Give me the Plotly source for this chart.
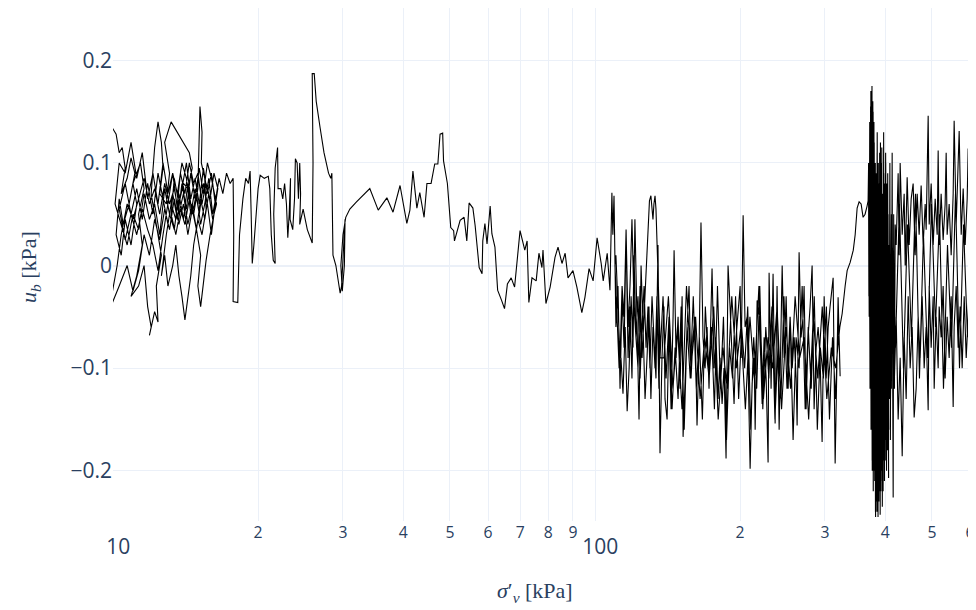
import plotly.graph_objects as go

# ---- segment A: tangled start (sigma'_v in kPa, u_b in kPa) ----
sig_a = [9.8, 10.15, 10.3, 10.45, 10.6, 10.4, 10.7, 10.9, 11.1, 10.8,
         10.5, 10.3, 10.15, 10.4, 10.6, 10.9, 11.2, 11.0, 11.4, 11.6,
         11.3, 11.5, 11.2, 10.9, 11.3, 11.6, 11.8, 12.0, 11.9, 12.2,
         12.4, 12.3, 12.6, 12.3, 12.0, 12.2, 12.4, 12.6, 12.7, 12.5,
         12.9, 13.1, 12.8, 13.2, 13.6, 14.0, 14.4, 14.6, 14.3, 14.0,
         13.7, 13.4, 13.2, 13.5, 13.8, 14.1, 14.4, 14.7, 15.0, 15.15,
         15.3, 15.25, 15.5, 15.6, 15.3, 15.0, 14.7, 14.5, 14.3, 14.1,
         13.9, 13.7, 13.5, 13.3, 13.0, 12.8, 12.6, 12.9, 13.2, 13.5,
         13.8, 14.1, 14.4, 14.7, 15.0, 15.3, 15.6, 15.9, 16.2, 16.5,
         16.2, 15.9, 15.6, 15.4, 15.2, 15.0, 15.2, 14.9, 14.6, 14.3,
         14.0, 13.7, 13.4, 13.1, 12.8, 12.5, 12.2, 11.9, 11.6, 11.3,
         11.0, 10.7, 10.4, 10.2, 9.8, 10.3, 10.7, 11.0, 11.3, 11.6,
         11.9, 12.2, 12.5, 12.8, 13.1, 13.4, 13.7, 14.0, 14.3, 14.6,
         14.9, 15.2, 15.5, 15.8, 16.1, 16.4, 16.0, 15.7, 15.4, 15.1,
         14.8, 14.5, 14.2, 13.9, 13.6, 13.3, 13.0, 12.7, 12.4, 12.1,
         11.8, 11.5, 11.2, 10.9, 10.6, 10.3, 10.6, 10.9, 11.2, 11.5,
         11.8, 12.1, 12.4, 12.7, 13.0, 13.3, 13.6, 13.9, 14.2, 14.5,
         14.8, 15.1, 15.4, 15.7, 16.0, 16.3]
ub_a = [0.14, 0.128, 0.11, 0.115, 0.095, 0.07, 0.085, 0.105, 0.09, 0.06,
        0.04, 0.065, 0.03, 0.01, 0.045, 0.02, 0.06, 0.08, 0.1, 0.075,
        0.05, 0.02, -0.01, -0.03, -0.02, 0.0, -0.04, -0.06, -0.068, -0.045,
        -0.055, -0.02, 0.01, 0.04, 0.07, 0.115, 0.14, 0.12, 0.095, 0.07,
        0.06, 0.09, 0.12, 0.14, 0.13, 0.12, 0.11, 0.095, 0.075, 0.08,
        0.06, 0.085, 0.05, 0.03, 0.055, 0.04, 0.065, 0.05, 0.075, 0.155,
        0.13, 0.1, 0.085, 0.055, 0.03, 0.045, 0.02, -0.01, -0.03, -0.053,
        -0.03, -0.01, 0.02, 0.0, -0.02, 0.01, -0.01, 0.03, 0.06, 0.045,
        0.09, 0.07, 0.1, 0.08, 0.09, 0.06, 0.08, 0.065, 0.09, 0.075,
        0.05, 0.03, 0.005, -0.02, -0.04, -0.02, 0.01, 0.035, 0.06, 0.04,
        0.07, 0.05, 0.075, 0.06, 0.08, 0.05, 0.075, 0.06, 0.085, 0.065,
        0.045, 0.06, 0.03, 0.0, -0.045, -0.02, 0.0, -0.025, -0.005, 0.03,
        0.01, 0.045, 0.025, 0.055, 0.035, 0.065, 0.04, 0.06, 0.03, 0.055,
        0.035, 0.065, 0.045, 0.07, 0.045, 0.06, 0.085, 0.1, 0.07, 0.095,
        0.065, 0.09, 0.055, 0.08, 0.045, 0.07, 0.04, 0.065, 0.09, 0.05,
        0.08, 0.045, 0.075, 0.05, 0.08, 0.055, 0.025, 0.05, 0.03, 0.055,
        0.035, 0.02, -0.005, 0.03, 0.06, 0.09, 0.07, 0.1, 0.085, 0.05,
        0.075, 0.05, 0.08, 0.06, 0.03, 0.06]
sig_a2 = [16.0, 15.7, 15.4, 15.1, 14.8, 14.5, 14.2, 13.9, 13.6, 13.3,
          13.0, 12.7, 12.4, 12.1, 11.8, 11.5, 11.2, 10.9, 10.6, 10.3,
          10.1, 10.4, 10.7, 11.0, 11.3, 11.6, 11.9, 12.2, 12.5, 12.8,
          13.1, 13.4, 13.7, 14.0, 14.3, 14.6, 14.9, 15.2, 15.5, 15.8,
          16.1, 16.4]
ub_a2 = [0.09, 0.07, 0.095, 0.06, 0.085, 0.065, 0.1, 0.075, 0.055, 0.09,
         0.07, 0.1, 0.06, 0.09, 0.065, 0.11, 0.085, 0.12, 0.09, 0.1,
         0.06, 0.04, 0.02, 0.05, 0.035, 0.07, 0.045, 0.06, 0.03, 0.075,
         0.05, 0.035, 0.07, 0.045, 0.08, 0.05, 0.07, 0.04, 0.06, 0.085,
         0.05, 0.07]

# ---- segment B: 17 - 30 kPa ----
sig_b = [16.6, 16.9, 17.2, 17.5, 17.75, 17.8, 17.75, 18.15, 18.3, 18.6,
         18.85, 19.1, 19.25, 19.35, 19.45, 19.6, 19.8, 20.0, 20.2, 20.6,
         21.0, 21.15, 21.3, 21.5, 21.7, 21.55, 21.7, 21.95, 22.0, 22.3,
         22.5, 22.7, 22.9, 23.05, 23.2, 23.35, 23.3, 23.6, 23.8, 23.9,
         24.1, 24.25, 24.4, 24.5, 24.4, 24.8, 25.3, 25.9, 26.0, 25.85,
         25.9, 26.15, 26.4, 26.9, 27.4, 28.0, 28.3, 28.45, 28.5, 28.6,
         29.0, 29.4, 29.6, 29.8, 30.0, 30.3, 30.2, 29.9, 29.7, 30.0,
         30.4]
ub_b = [0.085, 0.07, 0.09, 0.08, 0.085, 0.03, -0.035, -0.036, 0.03, 0.065,
        0.085, 0.08, 0.092, 0.05, 0.002, 0.02, 0.047, 0.075, 0.088, 0.085,
        0.087, 0.075, 0.03, 0.005, 0.002, 0.05, 0.095, 0.115, 0.075, 0.075,
        0.065, 0.08, 0.06, 0.027, 0.05, 0.085, 0.045, 0.035, 0.065, 0.104,
        0.1, 0.065, 0.1, 0.07, 0.04, 0.055, 0.035, 0.022, 0.1, 0.17,
        0.187, 0.187, 0.16, 0.134, 0.11, 0.09, 0.085, 0.09, 0.05, 0.01,
        0.0, -0.02, -0.027, -0.02, 0.01, 0.045, 0.0, -0.025, 0.0, 0.03,
        0.047]

# ---- segment C: 30 - 108 kPa ----
sig_c = [31.0, 32.0, 33.0, 34.1, 35.5, 37.0, 38.1, 39.4, 40.7, 41.3,
         41.9, 42.7, 43.3, 44.2, 44.8, 45.7, 46.5, 47.2, 47.7, 48.3,
         48.5, 49.4, 50.2, 50.9, 51.1, 52.5, 53.5, 54.2, 54.8, 55.8,
         56.4, 57.5, 58.3, 58.5, 59.1, 59.7, 60.6, 61.1, 62.0, 62.8,
         64.0, 64.9, 65.8, 67.0, 68.1, 69.9, 71.5, 72.3, 72.9, 74.0,
         75.5, 76.5, 77.6, 78.0, 79.1, 80.7, 82.6, 83.8, 85.4, 86.7,
         87.9, 90.0, 91.7, 93.9, 95.3, 97.2, 99.1, 101.0, 103.0, 104.0,
         106.0, 107.4]
ub_c = [0.055, 0.062, 0.068, 0.075, 0.054, 0.066, 0.052, 0.078, 0.041, 0.054,
        0.092, 0.056, 0.071, 0.047, 0.08, 0.08, 0.099, 0.099, 0.128, 0.129,
        0.102, 0.08, 0.037, 0.034, 0.024, 0.044, 0.047, 0.024, 0.061, 0.056,
        0.039, -0.002, -0.008, 0.024, 0.041, 0.021, 0.058, 0.031, 0.018, -0.024,
        -0.034, -0.042, -0.018, -0.012, -0.021, 0.034, 0.015, 0.024, -0.036, -0.012,
        -0.015, 0.012, -0.002, 0.015, -0.037, -0.021, 0.008, 0.018, 0.002, 0.012,
        -0.012, -0.005, -0.021, -0.046, -0.031, -0.003, -0.015, 0.027, 0.002, -0.015,
        0.012, -0.024]

# ---- segment D: noisy stretch 108 - 370 kPa (several passes) ----
sig_d1 = [108.4, 108.9, 109.5, 110.5, 111.6, 112.7, 113.8, 114.9, 116.0, 117.1,
          118.2, 119.3, 120.5, 121.6, 122.8, 124.0, 125.2, 126.4, 127.6, 128.8,
          129.7, 130.6, 131.3, 131.9, 132.5, 133.2, 133.8, 134.4, 135.1, 136.4]
ub_d1 = [0.071, 0.03, 0.068, -0.06, -0.02, -0.12, -0.03, -0.08, 0.03, -0.09,
         -0.04, -0.11, 0.01, -0.07, -0.10, -0.02, -0.09, -0.05, -0.01, 0.03,
         0.063, 0.068, 0.055, 0.045, 0.06, 0.068, 0.055, 0.025, -0.02, -0.07]
sig_d2 = [135.7, 134.4, 133.2, 131.9, 130.6, 129.4, 128.2, 127.0, 125.8, 124.6,
          123.4, 122.2, 121.0, 119.9, 118.8, 117.7, 116.6, 115.5, 114.3, 113.2,
          112.2, 111.1, 110.0]
ub_d2 = [-0.12, -0.03, -0.10, -0.06, -0.13, -0.04, -0.09, -0.13, -0.06, 0.0,
         -0.15, -0.05, 0.045, -0.08, -0.03, -0.10, -0.142, -0.06, -0.125, -0.09,
         -0.10, -0.05, 0.0]
sig_d3 = [110.5, 111.6, 112.7, 113.8, 114.9, 116.0, 117.1, 118.2, 119.3, 120.5,
          121.6, 122.8, 124.0, 125.2, 126.4, 127.6, 128.8, 130.0, 131.3, 132.5,
          133.8, 135.1, 136.4, 137.7, 139.0, 139.7, 141.1, 142.4, 143.8, 145.2,
          145.9, 147.3, 148.7, 150.1, 151.6, 152.3, 153.8, 155.2, 156.7, 158.2,
          159.7, 161.2, 162.8, 164.4, 165.9, 167.5, 169.2, 170.8, 172.4, 174.1,
          174.9, 176.6, 178.3, 180.0, 181.7, 183.5, 185.2, 187.0, 187.9, 188.8,
          190.6, 192.5, 194.3, 196.2, 198.1, 200.0, 201.0, 202.9, 204.8, 206.8,
          209.8, 211.8, 213.9, 214.9, 216.9, 219.0, 221.1, 222.2, 224.3, 226.5,
          228.6, 229.7, 231.9, 234.1, 236.4, 238.6, 241.0, 243.3, 244.5, 246.8,
          249.2, 251.6, 254.0, 256.5, 258.9, 261.4, 262.6, 265.1, 267.6, 270.2,
          271.5, 274.1, 276.7, 279.4, 282.1, 284.8, 287.6, 290.3, 293.1, 295.9,
          298.8, 301.7, 304.6, 307.4, 311.9, 314.9, 317.9, 319.4, 322.5]
ub_d3 = [0.01, -0.04, -0.09, -0.02, -0.05, 0.035, -0.06, -0.02, 0.045, -0.04,
         -0.07, -0.03, -0.11, -0.06, -0.02, -0.08, -0.04, -0.10, -0.03, -0.07,
         -0.11, 0.02, -0.183, -0.09, -0.04, -0.13, -0.15, -0.06, -0.14, -0.05,
         0.015, -0.09, -0.05, -0.12, -0.03, -0.167, -0.10, -0.06, -0.02, -0.11,
         -0.07, -0.05, -0.156, -0.08, 0.042, -0.07, -0.10, -0.06, -0.12, -0.04,
         -0.003, -0.10, -0.07, -0.13, -0.09, -0.135, -0.10, -0.188, -0.08, 0.0,
         -0.04, -0.10, -0.135, -0.07, -0.04, -0.02, -0.09, 0.049, -0.06, -0.05,
         -0.198, -0.115, -0.09, -0.16, -0.034, -0.05, -0.10, -0.135, -0.07, -0.11,
         -0.192, -0.007, -0.12, -0.008, -0.154, -0.02, -0.16, -0.06, 0.0, -0.09,
         -0.03, -0.12, -0.05, -0.10, -0.07, -0.11, -0.156, 0.013, -0.07, -0.05,
         -0.02, -0.14, -0.07, -0.04, 0.0, -0.14, -0.08, -0.06, -0.09, -0.172,
         -0.03, -0.11, -0.06, -0.04, -0.012, -0.193, -0.06, -0.031, -0.108]
sig_d4 = [320.0, 315.5, 311.0, 306.5, 302.0, 297.7, 293.4, 289.2, 285.0, 280.9,
          276.9, 272.9, 269.0, 265.1, 261.3, 257.6, 253.9, 250.2, 246.6, 243.1,
          239.6, 236.2, 232.8, 229.4, 226.1, 222.9, 219.7, 216.5, 213.4, 210.4,
          207.4, 204.4, 201.5, 198.6, 195.7, 192.9, 190.1, 187.4, 184.7, 182.1,
          179.5, 176.9, 174.4, 171.9, 169.4, 167.0, 164.6, 162.2, 159.9, 157.6,
          155.3, 153.1, 150.9, 148.7, 146.6, 144.5, 142.4, 140.4, 138.4, 136.4]
ub_d4 = [-0.05, -0.13, -0.07, -0.15, -0.04, -0.11, -0.08, -0.16, -0.03, -0.12,
         -0.06, -0.14, -0.02, -0.10, -0.07, -0.17, -0.05, -0.12, -0.03, -0.13,
         -0.08, -0.15, -0.04, -0.11, -0.06, -0.14, -0.02, -0.12, -0.07, -0.16,
         -0.04, -0.10, -0.06, -0.13, -0.03, -0.11, -0.08, -0.17, -0.05, -0.12,
         -0.02, -0.14, -0.06, -0.10, -0.04, -0.15, -0.07, -0.12, -0.03, -0.11,
         -0.06, -0.16, -0.04, -0.13, -0.08, -0.14, -0.05, -0.11, -0.03, -0.09]
sig_d5 = [139.0, 142.0, 145.1, 148.3, 151.5, 154.8, 158.2, 161.7, 165.2, 168.8,
          172.5, 176.3, 180.1, 184.1, 188.1, 192.2, 196.4, 200.7, 205.1, 209.6,
          214.1, 218.8, 223.6, 228.5, 233.5, 238.6, 243.8, 249.1, 254.5, 260.1,
          265.8, 271.6, 277.5, 283.6, 289.8, 296.1, 302.6, 309.2, 315.9, 322.0]
ub_d5 = [-0.09, -0.03, -0.12, -0.06, -0.14, -0.02, -0.10, -0.05, -0.13, -0.07,
         -0.11, -0.04, -0.15, -0.08, -0.12, -0.03, -0.10, -0.06, -0.14, -0.05,
         -0.11, -0.02, -0.13, -0.07, -0.10, -0.04, -0.14, -0.06, -0.12, -0.03,
         -0.09, -0.07, -0.15, -0.05, -0.11, -0.04, -0.13, -0.08, -0.10, -0.06]
sig_d6 = [325.6, 330.3, 333.5, 338.3, 343.4, 346.5, 349.8, 353.1, 356.5, 359.9,
          363.3, 366.8, 368.6]
ub_d6 = [-0.047, -0.02, -0.005, 0.003, 0.015, 0.03, 0.056, 0.062, 0.06, 0.047,
         0.05, 0.058, 0.063]

# ---- segment E: dense burst around 370 - 420 kPa ----
sig_e1 = [369.5, 370.5, 371.5, 372.5, 373.5, 374.5, 375.5, 376.5, 377.5, 378.5,
          379.5, 380.5, 381.5, 382.5, 383.5, 384.5, 385.5, 386.5, 387.5, 388.5,
          389.5, 390.5, 391.5, 392.5, 393.5, 394.5, 395.5, 396.5, 397.5, 398.5,
          399.5, 400.5, 401.5, 402.5, 403.5, 404.5, 405.5, 406.5]
ub_e1 = [0.10, -0.05, 0.14, -0.10, 0.17, -0.14, 0.175, -0.17, 0.15, -0.20,
         0.12, -0.21, 0.10, -0.23, 0.09, -0.24, 0.06, -0.245, 0.08, -0.22,
         0.11, -0.243, 0.07, -0.20, 0.115, -0.235, 0.04, -0.19, 0.09, -0.21,
         0.03, -0.17, 0.06, -0.20, 0.0, -0.18, 0.05, -0.207]
sig_e2 = [405, 404, 403, 402, 401, 400, 399, 398, 397, 396,
          395, 394, 393, 392, 391, 390, 389, 388, 387, 386,
          385, 384, 383, 382, 381, 380, 379, 378, 377, 376,
          375, 374, 373, 372, 371, 370, 369.5]
ub_e2 = [0.02, -0.15, 0.08, -0.12, 0.10, -0.19, 0.05, -0.10, 0.13, -0.22,
         0.02, -0.16, 0.09, -0.21, 0.12, -0.13, 0.04, -0.23, 0.10, -0.18,
         0.13, -0.12, 0.07, -0.245, 0.03, -0.15, 0.14, -0.09, 0.16, -0.20,
         0.10, -0.06, 0.155, -0.12, 0.08, -0.03, 0.06]
sig_e3 = [370.8, 371.8, 372.8, 373.8, 374.8, 375.8, 376.8, 377.8, 378.8, 379.8,
          380.8, 381.8, 382.8, 383.8, 384.8, 385.8, 386.8, 387.8, 388.8, 389.8,
          390.8, 391.8, 392.8, 393.8, 394.8, 395.8, 396.8, 397.8, 398.8, 399.8,
          400.8, 401.8, 402.8, 403.8, 404.8, 405.8, 406.8, 407.8, 409.0, 410.0,
          411.0, 412.0, 413.5, 414.5, 415.5, 416.5, 418.0, 419.5]
ub_e3 = [0.02, -0.08, 0.12, -0.16, 0.09, -0.19, 0.13, -0.22, 0.06, -0.18,
         0.10, -0.24, 0.03, -0.20, 0.11, -0.15, 0.05, -0.23, 0.08, -0.17,
         0.02, -0.22, 0.10, -0.14, 0.07, -0.19, 0.0, -0.16, 0.08, -0.12,
         0.11, -0.17, 0.03, -0.11, 0.09, -0.15, 0.02, -0.13, 0.10, -0.17,
         0.01, -0.12, 0.11, -0.10, -0.226, 0.05, -0.12, 0.04]

# ---- segment F: upper band, 420 - 623 kPa ----
sig_f = [421.5, 425.5, 427.6, 429.6, 433.8, 437.9, 440.0, 444.2, 448.5, 452.8,
         457.1, 461.5, 466.0, 470.4, 474.9, 479.5, 484.1, 486.4, 491.1, 493.5,
         498.2, 503.0, 507.8, 512.7, 515.1, 517.6, 522.5, 527.5, 532.6, 535.2,
         537.7, 542.9, 548.1, 553.4, 556.0, 561.4, 566.8, 569.5, 575.0, 580.5,
         586.1, 591.7, 594.5, 600.1, 606.0, 611.8, 617.4, 623.0]
ub_f = [0.02, 0.09, 0.01, 0.10, 0.03, 0.07, 0.0, 0.086, 0.02, 0.065,
        0.08, 0.01, 0.07, 0.03, 0.078, 0.02, 0.06, 0.035, 0.146, 0.04,
        0.08, 0.02, 0.065, 0.03, 0.112, 0.02, 0.07, 0.025, 0.06, 0.11,
        0.03, 0.06, 0.01, 0.07, 0.141, 0.04, 0.09, 0.131, 0.03, 0.075,
        0.02, 0.065, 0.114, 0.04, 0.08, 0.03, 0.07, 0.05]

# ---- segment G: lower band, back from 623 to 410 kPa ----
sig_g = [623.0, 617.4, 611.8, 606.0, 600.1, 594.5, 588.9, 583.3, 577.7, 572.2,
         566.8, 561.4, 556.0, 553.4, 548.1, 542.9, 537.7, 532.6, 527.5, 522.5,
         517.6, 515.1, 510.2, 505.4, 503.0, 498.2, 493.5, 491.1, 486.4, 481.8,
         477.2, 472.6, 468.2, 463.7, 459.3, 455.0, 450.6, 446.4, 442.1, 437.9,
         433.8, 429.6, 425.5, 421.5, 417.4, 413.5, 409.5]
ub_g = [-0.02, -0.03, -0.06, -0.02, -0.146, -0.05, -0.09, -0.03, -0.10, -0.04,
        -0.08, -0.02, -0.06, -0.138, -0.03, -0.09, -0.05, -0.11, -0.02, -0.07,
        -0.04, -0.10, -0.05, -0.12, -0.03, -0.08, -0.02, -0.141, -0.06, -0.10,
        -0.03, -0.09, -0.05, -0.12, -0.148, -0.06, -0.10, -0.03, -0.13, -0.07,
        -0.186, -0.09, -0.15, -0.05, -0.12, 0.0, -0.16]

# ---- segment H: last pass across both bands ----
sig_h = [412.0, 420.0, 428.1, 436.4, 444.8, 453.4, 462.2, 471.1, 480.2, 489.5,
         499.0, 508.6, 518.4, 528.4, 538.6, 549.0, 559.6, 570.4, 581.4, 592.6,
         604.1, 615.8, 627.7]
ub_h = [0.05, -0.08, 0.06, -0.10, 0.04, -0.07, 0.07, -0.11, 0.03, -0.09,
        0.06, -0.06, 0.05, -0.12, 0.02, -0.08, 0.07, -0.10, 0.04, -0.07,
        0.06, -0.09, 0.03]

sig_parts = [sig_a, sig_a2, sig_b, sig_c, sig_d1, sig_d2, sig_d3, sig_d4, sig_d5, sig_d6,
             sig_e1, sig_e2, sig_e3, sig_f, sig_g, sig_h]
ub_parts = [ub_a, ub_a2, ub_b, ub_c, ub_d1, ub_d2, ub_d3, ub_d4, ub_d5, ub_d6,
            ub_e1, ub_e2, ub_e3, ub_f, ub_g, ub_h]
sigma_v, u_b = [], []
for s, u in zip(sig_parts, ub_parts):
    assert len(s) == len(u), (len(s), len(u))
    sigma_v += s
    u_b += u

fig = go.Figure(go.Scatter(x=sigma_v, y=u_b, mode="lines",
                           line=dict(color="black", width=1.1),
                           showlegend=False, hoverinfo="skip"))

fig.update_layout(
    template="plotly_white",
    width=976, height=610,
    margin=dict(l=105, r=0, t=0, b=97),
    font=dict(family="Open Sans, sans-serif", color="#2a3f5f", size=21),
    showlegend=False,
    plot_bgcolor="white", paper_bgcolor="white",
    annotations=[
        dict(text="<i>σ</i>′<sub><i>v</i></sub> [kPa]", xref="paper", yref="paper",
             x=0.4845, y=0, yshift=-71, xanchor="center", yanchor="middle",
             showarrow=False, font=dict(family="Liberation Serif, serif", size=22)),
        dict(text="<i>u</i><sub><i>b</i></sub> [kPa]", xref="paper", yref="paper",
             x=0, y=0.495, xshift=-83, xanchor="center", yanchor="middle", textangle=-90,
             showarrow=False, font=dict(family="Liberation Serif, serif", size=22)),
    ],
)
fig.update_xaxes(
    type="log", range=[1, 2.807], dtick="D1",
    tickfont=dict(size=21),
    gridcolor="#EBF0F8", showline=False, zeroline=False,
    automargin=False,
)
fig.update_yaxes(
    range=[-0.249, 0.251], dtick=0.1,
    tickfont=dict(size=21),
    gridcolor="#EBF0F8", zeroline=True, zerolinecolor="#EBF0F8", zerolinewidth=2,
    automargin=False,
)

fig.write_html("out.html")
